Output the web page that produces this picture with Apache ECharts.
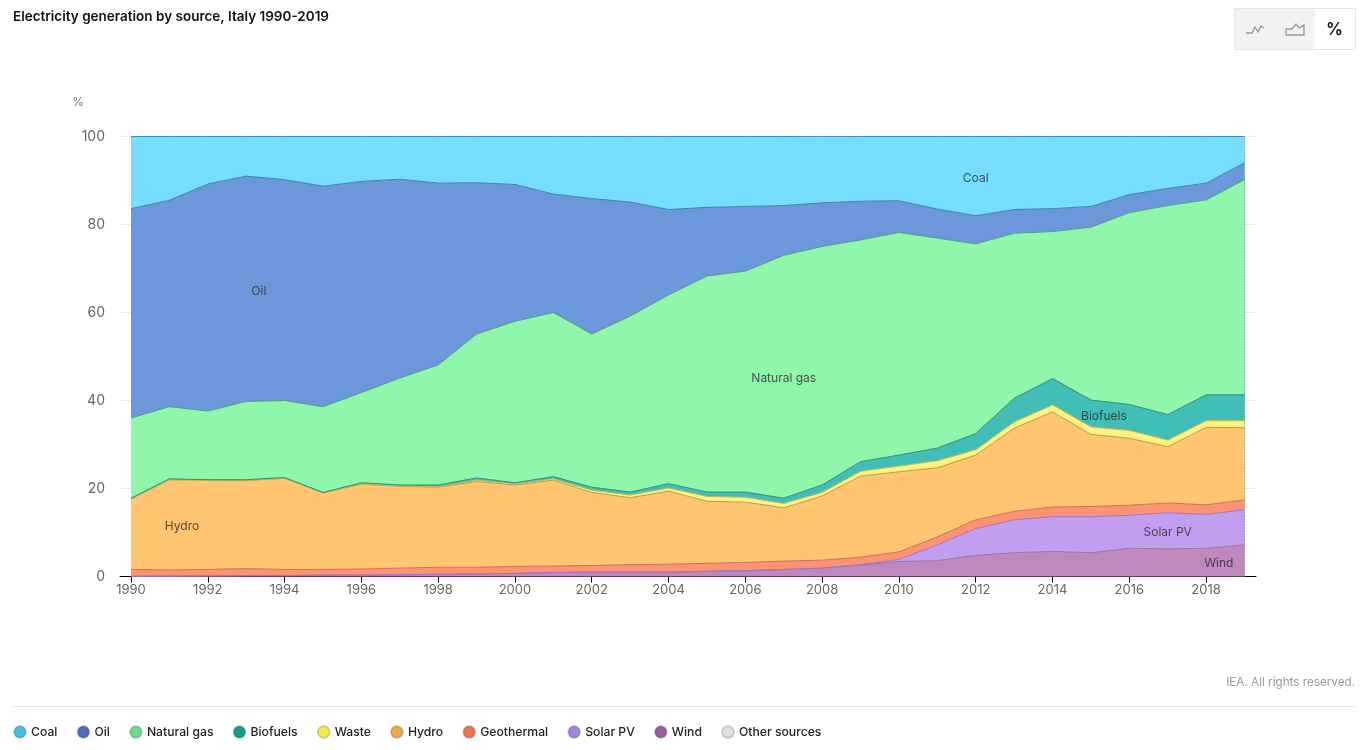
<!DOCTYPE html>
<html>
<head>
<meta charset="utf-8">
<style>
  html, body { margin: 0; padding: 0; background: #fff; }
  #main { width: 1370px; height: 750px; }
</style>
<script src="https://cdn.jsdelivr.net/npm/echarts@6/dist/echarts.min.js"></script>
</head>
<body>
<div id="main"></div>
<script>
var years = ['1990','1991','1992','1993','1994','1995','1996','1997','1998','1999','2000','2001','2002','2003','2004','2005','2006','2007','2008','2009','2010','2011','2012','2013','2014','2015','2016','2017','2018','2019'];
var xTicks = [1990,1992,1994,1996,1998,2000,2002,2004,2006,2008,2010,2012,2014,2016,2018];

// shares in %, bottom of the stack first
var other = [0,0,0,0,0,0,0,0,0,0,0,0,0,0,0,0,0,0,0,0,0,0,0,0,0,0,0,0,0,0];
var wind = [0.05,0.1,0.15,0.2,0.2,0.3,0.3,0.4,0.5,0.6,0.7,0.9,1.0,1.0,1.0,1.2,1.3,1.6,1.9,2.6,3.4,3.6,4.8,5.4,5.7,5.4,6.4,6.3,6.4,7.2];
var solar = [0,0,0,0,0,0,0,0,0,0,0,0,0,0,0,0,0,0,0.02,0.1,0.5,3.6,6.1,7.5,7.9,8.2,7.5,8.2,7.7,8.0];
var geothermal = [1.55,1.4,1.45,1.6,1.4,1.3,1.4,1.5,1.6,1.5,1.6,1.5,1.5,1.7,1.8,1.8,1.9,1.9,1.8,1.7,1.7,1.8,2.0,1.9,2.2,2.3,2.3,2.2,2.2,2.2];
var hydro = [16.0,20.5,20.3,20.0,20.7,17.4,19.3,18.6,18.2,19.5,18.5,19.5,16.6,15.2,16.6,14.1,13.7,12.1,14.6,18.4,18.2,15.7,14.7,18.9,21.6,16.4,15.2,12.8,17.6,16.4];
var waste = [0,0,0,0.1,0,0,0,0.1,0.1,0.3,0.2,0.3,0.5,0.6,0.7,1.1,1.1,1.0,0.8,1.1,1.3,1.6,1.2,1.4,1.6,1.7,1.8,1.5,1.5,1.6];
var biofuels = [0.2,0.2,0.1,0.1,0.2,0.1,0.3,0.2,0.4,0.5,0.3,0.5,0.7,0.7,1.0,1.0,1.2,1.2,1.7,2.2,2.5,2.9,3.7,5.4,6.0,6.1,5.9,5.8,5.9,5.9];
var gas = [18.2,16.4,15.6,17.8,17.5,19.5,20.5,24.3,27.3,32.7,36.7,37.3,34.8,40.0,42.9,49.1,50.2,55.2,54.2,50.4,50.6,47.7,43.1,37.5,33.4,39.3,43.6,47.5,44.3,48.9];
var oil = [47.6,46.9,51.6,51.2,50.2,50.1,48.0,45.2,41.3,34.4,31.1,26.9,30.8,25.9,19.4,15.6,14.7,11.3,9.9,8.8,7.2,6.6,6.4,5.4,5.2,4.7,4.1,3.9,3.8,3.8];
var coal = [16.4,14.5,10.8,9.0,9.8,11.3,10.2,9.7,10.6,10.5,10.9,13.1,14.1,14.9,16.6,16.1,15.9,15.7,15.1,14.7,14.6,16.5,18.0,16.6,16.4,15.9,13.2,11.8,10.6,6.0];

var legendNames = ['Coal','Oil','Natural gas','Biofuels','Waste','Hydro','Geothermal','Solar PV','Wind','Other sources'];

// labels written inside the areas
var labelNames = ['Coal','Oil','Natural gas','Biofuels','Hydro','Solar PV','Wind'];
var labelYears = [2012,1993.33,2007,2015.34,1991.33,2017,2018.33];
var labelValues = [90.4,64.8,45,36.5,11.5,10,3];

var fontName = 'Inter, "Noto Sans", sans-serif';

// areas live on the inner grid, axes and gridlines on the slightly wider outer one
function areaSeries(name, values, legendColor, fillColor, lineColor) {
    return {
        name: name,
        type: 'line',
        stack: 'mix',
        xAxisIndex: 1,
        yAxisIndex: 1,
        symbol: 'none',
        showSymbol: false,
        itemStyle: { color: legendColor, borderColor: 'rgba(0,0,0,0.15)', borderWidth: 1 },
        lineStyle: { width: 1, color: lineColor },
        areaStyle: { color: fillColor, opacity: 0.97 },
        data: values
    };
}

var series = [
    areaSeries('Other sources', other, '#e0e0e0', '#e0e0e0', 'rgba(0,0,0,0)'),
    areaSeries('Wind', wind, '#9b5f9f', '#bd84bd', '#a0709f'),
    areaSeries('Solar PV', solar, '#a285e0', '#bf9bf0', '#9a78c8'),
    areaSeries('Geothermal', geothermal, '#ef7350', '#ff8d70', '#c8735a'),
    areaSeries('Hydro', hydro, '#f0a848', '#ffc36c', '#b89a4a'),
    areaSeries('Waste', waste, '#fae850', '#fff27c', '#c8b850'),
    areaSeries('Biofuels', biofuels, '#0f9e8a', '#3abcb5', '#2e8f78'),
    areaSeries('Natural gas', gas, '#6fdc8c', '#8bf6a9', '#4f9f80'),
    areaSeries('Oil', oil, '#4a72c0', '#6894da', '#3d85a0'),
    areaSeries('Coal', coal, '#46bfe6', '#72dcff', '#3d8fa8')
];

series.push({
    name: 'labels',
    type: 'scatter',
    xAxisIndex: 0,
    yAxisIndex: 0,
    symbolSize: 0,
    silent: true,
    z: 10,
    data: labelNames.map(function (n, i) { return { name: n, value: [labelYears[i], labelValues[i]] }; }),
    label: {
        show: true,
        position: 'inside',
        formatter: '{b}',
        fontFamily: fontName,
        fontSize: 12,
        color: '#2b2b2b'
    },
    markLine: {
        silent: true,
        symbol: 'none',
        label: { show: false },
        lineStyle: { type: [1, 2], width: 1, color: '#4f8f78' },
        data: [{ xAxis: 2019 }]
    }
});

var option = {
    animation: false,
    backgroundColor: '#fff',
    textStyle: { fontFamily: fontName },
    title: {
        text: 'Electricity generation by source, Italy 1990-2019',
        left: 13,
        top: 10,
        padding: 0,
        textStyle: { fontFamily: fontName, fontSize: 13.5, fontWeight: 600, color: '#111' }
    },
    grid: [
        { left: 120, right: 114, top: 136.5, bottom: 173.5 },
        { left: 131, right: 125.4, top: 136.5, bottom: 173.5 }
    ],
    legend: {
        data: legendNames,
        left: 8,
        top: 720,
        icon: 'circle',
        itemWidth: 12,
        itemHeight: 12,
        itemGap: 19,
        textStyle: { fontFamily: fontName, fontSize: 12.2, fontWeight: 500, color: '#222' }
    },
    xAxis: [
        {
            type: 'value',
            gridIndex: 0,
            min: 1989.714,
            max: 2019.3,
            splitLine: { show: false },
            axisLine: { onZero: false, lineStyle: { color: '#000', width: 1 } },
            axisTick: { customValues: xTicks, length: 6, lineStyle: { color: '#000' } },
            axisLabel: {
                customValues: xTicks,
                formatter: function (v) { return String(Math.round(v)); },
                color: '#666',
                fontSize: 13,
                margin: 7
            }
        },
        { type: 'category', gridIndex: 1, show: false, boundaryGap: false, data: years }
    ],
    yAxis: [
        {
            type: 'value',
            gridIndex: 0,
            min: 0,
            max: 100,
            interval: 20,
            name: '%',
            nameLocation: 'end',
            nameGap: 28,
            nameTextStyle: { color: '#777', fontSize: 12, align: 'right', padding: [0, 36, 0, 0] },
            axisLine: { show: false },
            axisTick: { show: false },
            axisLabel: { color: '#666', fontSize: 14, margin: 15, padding: [5, 0, 0, 0] },
            splitLine: { lineStyle: { color: '#ececec', width: 1 } }
        },
        { type: 'value', gridIndex: 1, show: false, min: 0, max: 100 }
    ],
    series: series,
    graphic: [
        { type: 'rect', shape: { x: 13, y: 706, width: 1342, height: 1 }, style: { fill: '#e6e6e6' }, silent: true },
        { type: 'text', x: 1355, y: 682, style: { text: 'IEA. All rights reserved.', align: 'right', verticalAlign: 'middle', fontFamily: fontName, fontSize: 11.7, fill: '#999' }, silent: true },
        // view switch at the top right
        { type: 'rect', shape: { x: 1234.5, y: 8.5, width: 121, height: 41 }, style: { fill: '#f2f2f2', stroke: '#e6e6e6', lineWidth: 1 }, silent: true },
        { type: 'rect', shape: { x: 1315, y: 9, width: 40, height: 40 }, style: { fill: '#fff' }, silent: true },
        { type: 'polyline', shape: { points: [[1246, 33], [1252, 33], [1255, 27], [1258, 32], [1261, 26], [1264, 28]] }, style: { fill: 'none', stroke: '#999', lineWidth: 1.3 }, silent: true },
        { type: 'polyline', shape: { points: [[1286, 35], [1286, 29], [1292, 29], [1296, 24], [1299, 28], [1304, 25], [1304, 35], [1286, 35]] }, style: { fill: 'none', stroke: '#999', lineWidth: 1.3 }, silent: true },
        { type: 'text', x: 1334.5, y: 29.5, style: { text: '%', align: 'center', verticalAlign: 'middle', fontFamily: fontName, fontSize: 17, fontWeight: 600, fill: '#111' }, silent: true }
    ]
};

var myChart = echarts.init(document.getElementById('main'));
myChart.setOption(option);
</script>
</body>
</html>
